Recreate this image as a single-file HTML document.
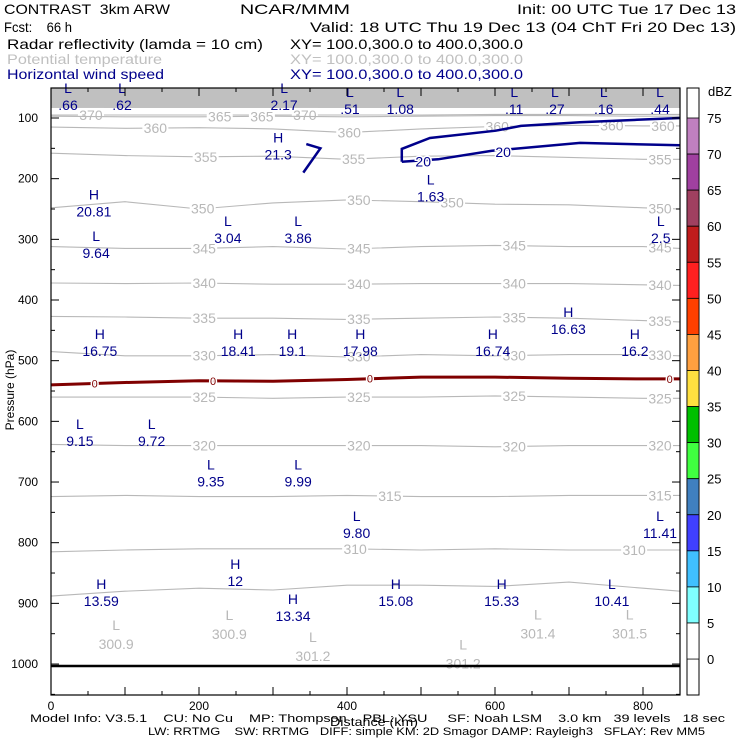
<!DOCTYPE html>
<html><head><meta charset="utf-8"><style>
body{margin:0;background:#fff}
svg{display:block;font-family:"Liberation Sans",sans-serif}
text{white-space:pre}
</style></head><body>
<svg id="c" width="740" height="740" viewBox="0 0 740 740">
<g font-size="14" fill="#000" lengthAdjust="spacingAndGlyphs">
<text x="4" y="14" textLength="166" lengthAdjust="spacingAndGlyphs">CONTRAST  3km ARW</text>
<text x="240" y="14" textLength="110" lengthAdjust="spacingAndGlyphs">NCAR/MMM</text>
<text x="517" y="14" textLength="219" lengthAdjust="spacingAndGlyphs">Init: 00 UTC Tue 17 Dec 13</text>
<text x="4" y="32" textLength="68" lengthAdjust="spacingAndGlyphs">Fcst:    66 h</text>
<text x="310" y="32" textLength="426" lengthAdjust="spacingAndGlyphs">Valid: 18 UTC Thu 19 Dec 13 (04 ChT Fri 20 Dec 13)</text>
<text x="7" y="49" textLength="256" lengthAdjust="spacingAndGlyphs">Radar reflectivity (lamda = 10 cm)</text>
<text x="290" y="49" textLength="233" lengthAdjust="spacingAndGlyphs">XY= 100.0,300.0 to 400.0,300.0</text>
<text x="7" y="64" textLength="155" lengthAdjust="spacingAndGlyphs" fill="#c0c0c0">Potential temperature</text>
<text x="290" y="64" textLength="233" lengthAdjust="spacingAndGlyphs" fill="#c0c0c0">XY= 100.0,300.0 to 400.0,300.0</text>
<text x="7" y="79" textLength="157" lengthAdjust="spacingAndGlyphs" fill="#00008b">Horizontal wind speed</text>
<text x="290" y="79" textLength="233" lengthAdjust="spacingAndGlyphs" fill="#00008b">XY= 100.0,300.0 to 400.0,300.0</text>
</g>
<rect x="51" y="88" width="629" height="20" fill="#c0c0c0"/>
<g id="theta"></g>
<g id="wind"></g>
<g id="labels" font-size="14"></g>
<line x1="51" y1="666" x2="680" y2="666" stroke="#000" stroke-width="2.5"/>
<rect x="51" y="88" width="629" height="607" fill="none" stroke="#000" stroke-width="1.2"/>
<g id="axes" font-size="12"></g>
<text x="14" y="390" font-size="12" transform="rotate(-90 14 390)" text-anchor="middle">Pressure (hPa)</text>
<text x="330" y="726" font-size="12" textLength="88" lengthAdjust="spacingAndGlyphs">Distance (km)</text>
<g font-size="11">
<text x="30" y="722" textLength="695" lengthAdjust="spacingAndGlyphs">Model Info: V3.5.1    CU: No Cu    MP: Thompson    PBL: YSU     SF: Noah LSM    3.0 km   39 levels   18 sec</text>
<text x="148" y="735" textLength="557" lengthAdjust="spacingAndGlyphs">LW: RRTMG    SW: RRTMG   DIFF: simple KM: 2D Smagor DAMP: Rayleigh3   SFLAY: Rev MM5</text>
</g>
<g id="cbar"></g>
</svg>
<script>
const NS='http://www.w3.org/2000/svg';
function mk(t,a,p,txt){const e=document.createElementNS(NS,t);for(const k in a)e.setAttribute(k,a[k]);if(txt!==undefined)e.textContent=txt;p.appendChild(e);return e;}
const X0=51,X1=680,KM0=0,KM1=850;
function xs(km){return X0+(km-KM0)/(KM1-KM0)*(X1-X0);}
function ys(p){return 118+(p-100)*0.6067;}
// data
const xKm=[0,100,200,300,400,500,600,700,800,850];
const thetaLevels=[370,365,360,355,350,345,340,335,330,325,320,315,310,305];
const thetaP=[
[95,95,95,95,95,95,94,94,94,94],
[97,98,98,97,98,97,96,96,97,97],
[115,117,116,118,124,118,114,112,113,113],
[158,162,164,163,168,163,162,165,168,168],
[248,238,250,240,235,238,242,243,248,250],
[312,315,315,312,316,312,310,312,312,315],
[372,373,372,374,374,373,373,373,375,376],
[427,428,430,430,432,430,428,430,434,436],
[485,492,492,490,494,490,492,490,490,492],
[560,560,560,562,560,560,558,560,562,562],
[638,640,640,640,640,640,642,640,640,640],
[724,722,724,724,722,724,724,722,722,722],
[815,812,810,810,810,812,810,812,812,812],
[888,880,875,878,870,870,872,865,875,880]];
const thetaLabelKm=[[54,343],[228,285],[141,403,603,758,827],[209,409,823],[205,416,542,823],[207,416,626,823],[207,416,626,823],[207,416,626,823],[207,416,626,823],[207,416,626,823],[207,416,626,823],[458,823],[411,788],[]];
const zeroLineP=[540,536,533,534,531,527,527,529,530,530];
const zeroLabelKm=[59,219,431,836];
const wind20aKm=[474,474,512,601,635,715,792,850];
const wind20aP=[172,151,133,121,113,107,103,100];
const wind20bKm=[474,523,596,715,850];
const wind20bP=[172,168,154,141,145];
const wind21Km=[345,364,341];
const wind21P=[143,150,190];
const wind20LabelKm=[503,611];
const wind20LabelP=[172,156];
const extrema=[
["L",".66",23,87],["L",".62",96,87],["L","2.17",315,87],["L",".51",404,93],["L","1.08",472,93],["L",".11",626,93],["L",".27",681,93],["L",".16",747,93],["L",".44",823,93],
["H","21.3",307,168],["H","20.81",58,262],["L","1.63",513,238],["L","9.64",61,331],["L","3.04",239,306],["L","3.86",334,306],["L","2.5",824,306],
["H","16.75",66,492],["H","18.41",253,492],["H","19.1",326,492],["H","17.98",418,492],["H","16.74",597,492],["H","16.63",699,456],["H","16.2",789,492],
["L","9.15",39,641],["L","9.72",136,641],["L","9.35",216,707],["L","9.99",334,707],["L","9.80",413,792],["L","11.41",823,792],
["H","12",249,871],["H","13.59",68,904],["H","13.34",327,929],["H","15.08",466,904],["H","15.33",609,904],["L","10.41",758,904]];
const thetaMin=[["L","300.9",88,975],["L","300.9",241,959],["L","301.2",354,995],["L","301.2",557,1007],["L","301.4",658,958],["L","301.5",782,958]];
const dbzTicks=[75,70,65,60,55,50,45,40,35,30,25,20,15,10,5,0];
const dbzColors=["#c080c0","#a040a0","#a04060","#c01c1c","#ff2020","#ff4000","#ffa040","#ffe040","#00c000","#40ff40","#4080c0","#4040ff","#40c0ff","#80ffff","#ffffff"];
const pTicks=[100,200,300,400,500,600,700,800,900,1000];
const kmTicks=[0,200,400,600,800];

const th=document.getElementById('theta');
function pathOf(kms,ps){return kms.map((k,i)=>(i?'L':'M')+xs(k).toFixed(1)+' '+ys(ps[i]).toFixed(1)).join(' ');}
function interp(kms,ps,k){for(let i=0;i<kms.length-1;i++){if(k>=kms[i]&&k<=kms[i+1]){const t=(k-kms[i])/(kms[i+1]-kms[i]);return ps[i]+t*(ps[i+1]-ps[i]);}}return ps[ps.length-1];}
thetaLevels.forEach((lv,i)=>{
 const p=mk('path',{d:pathOf(xKm,thetaP[i]),fill:'none',stroke:'#b8b8b8','stroke-width':1.1},th);
 
 
 thetaLabelKm[i].forEach(k=>{
  const y=ys(interp(xKm,thetaP[i],k));
  const b=mk('rect',{x:xs(k)-13,y:y-7,width:26,height:13,fill:'#fff'},th);
  
  
  const t=mk('text',{x:xs(k),y:y+5,'text-anchor':'middle','font-size':14,fill:'#b8b8b8'},th,String(lv));
  
  
 });
});
thetaMin.forEach(m=>{
 const t1=mk('text',{x:xs(m[2]),y:ys(m[3])-19,'text-anchor':'middle','font-size':14,fill:'#b8b8b8'},th,m[0]);
 
 
 const t2=mk('text',{x:xs(m[2]),y:ys(m[3]),'text-anchor':'middle','font-size':14,fill:'#b8b8b8'},th,m[1]);
 
 
});
const wd=document.getElementById('wind');
[[wind20aKm,wind20aP],[wind20bKm,wind20bP],[wind21Km,wind21P]].forEach(w=>{
 const p=mk('path',{d:pathOf(w[0],w[1]),fill:'none',stroke:'#00008b','stroke-width':2.5},wd);
 
 
});
wind20LabelKm.forEach((k,i)=>{
 const t=mk('text',{x:xs(k),y:ys(wind20LabelP[i])+5,'font-size':14,fill:'#00008b','text-anchor':'middle',stroke:'#fff','stroke-width':3,'paint-order':'stroke'},wd,'20');
 
 
});
const z=mk('path',{d:pathOf(xKm,zeroLineP),fill:'none',stroke:'#800000','stroke-width':3},wd);


zeroLabelKm.forEach(k=>{
 const y=ys(interp(xKm,zeroLineP,k));
 const t=mk('text',{x:xs(k),y:y+4,'font-size':11,fill:'#800000','text-anchor':'middle',stroke:'#fff','stroke-width':3,'paint-order':'stroke'},wd,'0');
 
 
});
const lb=document.getElementById('labels');
extrema.forEach(e=>{
 const t1=mk('text',{x:xs(e[2]),y:ys(e[3])-17,'text-anchor':'middle',fill:'#00008b'},lb,e[0]);
 
 
 const t2=mk('text',{x:xs(e[2]),y:ys(e[3]),'text-anchor':'middle',fill:'#00008b'},lb,e[1]);
 
 
});
const ax=document.getElementById('axes');
for(let p=50;p<=1050;p+=50){const y=ys(p);if(y<88||y>695)continue;
 const l=mk('line',{x1:51,x2:p%100?55:59,y1:y,y2:y,stroke:'#000'},ax);
 
 
 const r=mk('line',{x1:680,x2:p%100?676:672,y1:y,y2:y,stroke:'#000'},ax);
 
 }
pTicks.forEach(p=>{const t=mk('text',{x:38,y:ys(p)+4,'text-anchor':'end'},ax,String(p));
 
 });
for(let k=0;k<=850;k+=50){const x=xs(k);
 const l=mk('line',{x1:x,x2:x,y1:695,y2:k%100?691:687,stroke:'#000'},ax);
 
 
 const u=mk('line',{x1:x,x2:x,y1:88,y2:k%100?92:96,stroke:'#000'},ax);
 
 }
kmTicks.forEach(k=>{const t=mk('text',{x:xs(k),y:710,'text-anchor':'middle'},ax,String(k));
 
 });
const cb=document.getElementById('cbar');
const CB0=118,CBS=36.07;
function cy(d){return CB0+(75-d)/5*CBS;}
mk('rect',{x:687,y:88,width:12,height:607,fill:'#fff',stroke:'#000'},cb);
dbzColors.forEach((c,i)=>{const r=mk('rect',{x:687,y:cy(dbzTicks[i]),width:12,height:CBS,fill:c,stroke:'#000','stroke-width':0.8},cb);
 
 });
dbzTicks.forEach(d=>{const t=mk('text',{x:707,y:cy(d)+5,'font-size':13},cb,String(d));
 
 });
const u=mk('text',{x:708,y:96,'font-size':13},cb,'dBZ');


</script>
</body></html>
